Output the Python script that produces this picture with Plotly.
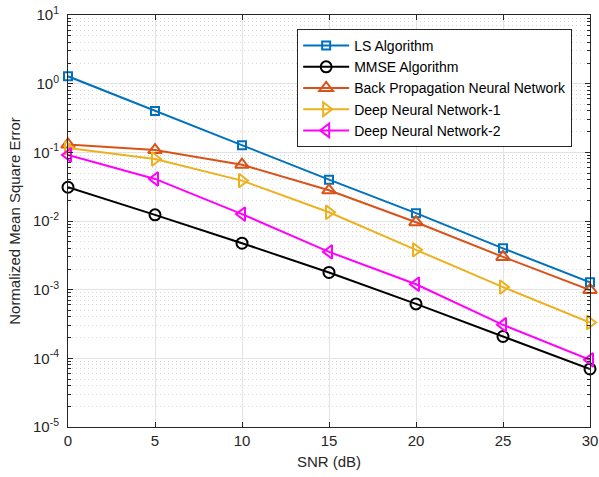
import plotly.graph_objects as go

snr = [0, 5, 10, 15, 20, 25, 30]
ls_alg = [1.28, 0.40, 0.127, 0.040, 0.013, 0.0040, 0.00128]
mmse_alg = [0.031, 0.0123, 0.00475, 0.00178, 0.00062, 0.000208, 0.000070]
bpnn = [0.13, 0.108, 0.066, 0.028, 0.0096, 0.0030, 0.00099]
dnn1 = [0.116, 0.080, 0.0387, 0.0134, 0.0038, 0.00109, 0.000332]
dnn2 = [0.0916, 0.041, 0.0126, 0.00355, 0.0012, 0.000308, 0.000095]

names = ["LS Algorithm", "MMSE Algorithm", "Back Propagation Neural Network",
         "Deep Neural Network-1", "Deep Neural Network-2"]
series = [ls_alg, mmse_alg, bpnn, dnn1, dnn2]
colors = ["#0072BD", "#000000", "#D95319", "#EDB120", "#FF00FF"]
symbols = ["square-open", "circle-open", "triangle-up-open", "triangle-right-open", "triangle-left-open"]
sizes = [8, 11, 12, 12, 12]

ytick_vals = [1e-5, 1e-4, 1e-3, 1e-2, 1e-1, 1e0, 1e1]
ytick_text = ["10<sup>-5</sup>", "10<sup>-4</sup>", "10<sup>-3</sup>", "10<sup>-2</sup>",
              "10<sup>-1</sup>", "10<sup>0</sup>", "10<sup>1</sup>"]

fig = go.Figure()
for n, s, c, sym, sz in zip(names, series, colors, symbols, sizes):
    fig.add_trace(go.Scatter(
        x=snr, y=s, name=n, mode="lines+markers",
        line=dict(color=c, width=2),
        marker=dict(symbol=sym, size=sz, color=c, line=dict(width=2, color=c)),
        cliponaxis=False,
    ))

fig.update_layout(
    width=599, height=477,
    margin=dict(l=68, r=9, t=15, b=50),
    paper_bgcolor="white", plot_bgcolor="white",
    font=dict(family="Liberation Sans, Arial, sans-serif", size=14, color="#262626"),
    showlegend=True,
    legend=dict(
        x=0.439, y=0.966, xanchor="left", yanchor="top",
        bgcolor="white", bordercolor="#262626", borderwidth=1,
        font=dict(size=14, color="#000000"),
        itemwidth=46, tracegroupgap=0,
    ),
)

fig.update_xaxes(
    range=[0, 30], tickvals=[0, 5, 10, 15, 20, 25, 30],
    automargin=False,
    showline=True, mirror="ticks", linecolor="#262626", linewidth=1,
    ticks="inside", ticklen=5, tickcolor="#262626",
    showgrid=True, gridcolor="#E3E3E3", gridwidth=1,
    zeroline=False,
    title=dict(text="SNR (dB)", font=dict(size=15, color="#262626"), standoff=8),
    tickfont=dict(size=15, color="#262626"),
)
fig.update_yaxes(
    type="log", range=[-5, 1],
    automargin=False,
    tickvals=ytick_vals, ticktext=ytick_text,
    ticklabelstandoff=5,
    showline=True, mirror="ticks", linecolor="#262626", linewidth=1,
    ticks="inside", ticklen=5, tickcolor="#262626",
    showgrid=True, gridcolor="#E3E3E3", gridwidth=1,
    zeroline=False,
    minor=dict(ticks="inside", ticklen=3, tickcolor="#262626", showgrid=True,
               gridcolor="#D8D8D8", griddash="1px,3px", gridwidth=1, dtick="D1"),
    title=dict(text="Normalized Mean Square Error", font=dict(size=15, color="#262626"), standoff=8),
    tickfont=dict(size=15, color="#262626"),
)

fig.write_html("out.html", config={"displayModeBar": False},
               post_script="document.body.style.margin='0';")
